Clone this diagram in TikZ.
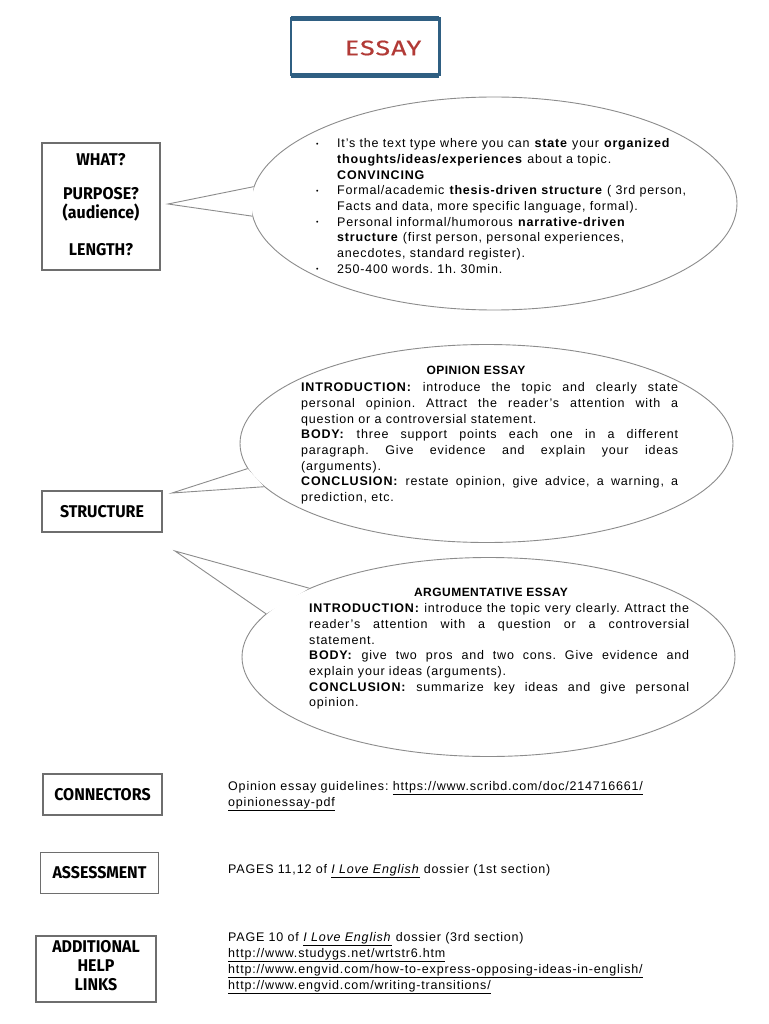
\documentclass[tikz,border=0pt]{standalone}
\usepackage{fontspec}
\setmainfont{Liberation Sans}[LetterSpace=6.5]
\newfontfamily\titlefont{Liberation Sans}[LetterSpace=4]
\newfontfamily\hand[FakeStretch=0.94]{Fira Sans}
\newfontfamily\essayfont[FakeStretch=1.27,LetterSpace=6,FakeBold=0.6]{Fira Sans}
\usetikzlibrary{shapes.geometric}
\definecolor{bub}{HTML}{8C8C8C}
\definecolor{boxc}{HTML}{6E6E6E}
\definecolor{frameblue}{HTML}{2F5F82}
\definecolor{essayred}{HTML}{B23A36}
\frenchspacing
\newcommand\rs{\spaceskip=0pt\xspaceskip=0pt\frenchspacing}
\newcommand\J[2]{{\rs\makebox[#1][s]{#2}}}
\newcommand\bul{\makebox[21pt][l]{\raisebox{1.5pt}{\fontsize{7}{7}\selectfont\textbullet}}}
\newcommand\ind{\hspace*{21pt}}
\begin{document}
\begin{tikzpicture}[x=1pt,y=-1pt,
  lbl/.style={draw=boxc, line width=1.2pt, inner sep=0, align=center,
    font=\hand\bfseries\fontsize{17}{19}\selectfont},
  lbltext/.style={inner sep=0, font=\hand\bfseries\fontsize{17}{19}\selectfont},
  bubble/.style={ellipse, draw=bub, line width=0.9pt, fill=white, inner sep=0},
  tail/.style={draw=bub, line width=0.9pt, line join=miter},
  body/.style={anchor=north west, inner sep=0, align=left,
    font=\fontsize{12.5}{15.7}\selectfont},
  title/.style={inner sep=0, font=\titlefont\bfseries\fontsize{12}{14}\selectfont},
  side/.style={anchor=base west, inner sep=0, font=\fontsize{12.5}{14}\selectfont}]
\useasboundingbox[fill=white] (0,0) rectangle (768,1024);

% ---- title frame
\node[inner sep=0, minimum width=148, minimum height=56] (essay) at (365,47) {};
\draw[frameblue, line width=2.6pt] (essay.north west) rectangle (essay.south east);
\draw[frameblue, line width=5pt] (essay.north west) -- (essay.north east);
\draw[frameblue, line width=5pt] (essay.south west) -- (essay.south east);
\node[inner sep=0, text=essayred, font=\essayfont\fontsize{21}{22}\selectfont] (essaytxt) at (383,48) {ESSAY};

% ---- left label boxes
\node[lbl, minimum width=118, minimum height=127] (what) at (101,206.5) {};
\node[lbltext] (w1) at (101,160) {WHAT?};
\node[lbltext] (w2) at (101,194) {PURPOSE?};
\node[lbltext] (w3) at (101,213) {(audience)};
\node[lbltext] (w4) at (101,250) {LENGTH?};

\node[lbl, minimum width=120, minimum height=41] (structure) at (102,511.5) {STRUCTURE};
\node[lbl, minimum width=119, minimum height=41] (connectors) at (102.5,794.5) {CONNECTORS};
\node[lbl, minimum width=118, minimum height=41] (assessment) at (99.5,873) {ASSESSMENT};
\node[lbl, minimum width=120, minimum height=66] (additional) at (96,969) {};
\node[lbltext] (a1) at (96,947) {ADDITIONAL};
\node[lbltext] (a2) at (96,966) {HELP};
\node[lbltext] (a3) at (96,985) {LINKS};

% ---- bubble 1
\node[bubble, minimum width=486, minimum height=213] (b1) at (494,203.5) {};
\coordinate (t1) at (168,204);
\fill[white] (t1) -- (b1.176.5) -- (b1.183.5) -- cycle;
\draw[tail] (b1.176.5) -- (t1) -- (b1.183.5);
\node[body, text width=420pt] (b1text) at (316,138.4) {\rs
\bul It's the text type where you can \textbf{state} your \textbf{organized}\\
\ind\textbf{thoughts/ideas/experiences} about a topic.\\
\ind\textbf{CONVINCING}\\
\bul Formal/academic \textbf{thesis-driven structure} ( 3rd person,\\
\ind Facts and data, more specific language, formal).\\
\bul Personal informal/humorous \textbf{narrative-driven}\\
\ind\textbf{structure} (first person, personal experiences,\\
\ind anecdotes, standard register).\\
\bul 250-400 words. 1h. 30min.};

% ---- bubble 2
\node[bubble, minimum width=493, minimum height=198] (b2) at (486.5,443.5) {};
\coordinate (t2) at (172,493);
\fill[white] (t2) -- (b2.186.6) -- (b2.191.8) -- cycle;
\draw[tail] (b2.186.6) -- (t2) -- (b2.191.8);
\node[title] (b2title) at (476,370) {OPINION ESSAY};
\node[body, text width=377pt] (b2text) at (301,382.4) {\rs
\J{377pt}{\textbf{INTRODUCTION:} introduce the topic and clearly state}\\
\J{377pt}{personal opinion. Attract the reader's attention with a}\\
question or a controversial statement.\\
\J{377pt}{\textbf{BODY:} three support points each one in a different}\\
\J{377pt}{paragraph. Give evidence and explain your ideas}\\
(arguments).\\
\J{377pt}{\textbf{CONCLUSION:} restate opinion, give advice, a warning, a}\\
prediction, etc.};

% ---- bubble 3
\node[bubble, minimum width=493, minimum height=199] (b3) at (488.5,657) {};
\coordinate (t3) at (175,551);
\fill[white] (t3) -- (b3.159.2) -- (b3.169.5) -- cycle;
\draw[tail] (b3.159.2) -- (t3) -- (b3.169.5);
\node[title] (b3title) at (491,592) {ARGUMENTATIVE ESSAY};
\node[body, text width=380pt] (b3text) at (309,603.4) {\rs
\J{380pt}{\textbf{INTRODUCTION:} introduce the topic very clearly. Attract the}\\
\J{380pt}{reader's attention with a question or a controversial}\\
statement.\\
\J{380pt}{\textbf{BODY:} give two pros and two cons. Give evidence and}\\
explain your ideas (arguments).\\
\J{380pt}{\textbf{CONCLUSION:} summarize key ideas and give personal}\\
opinion.};

% ---- right-hand texts
\node[side] (s1) at (228,790.3) {Opinion essay guidelines: \underline{https://www.scribd.com/doc/214716661/}};
\node[side] (s2) at (228,806.3) {\underline{opinionessay-pdf}};
\node[side] (s3) at (228,873.3) {PAGES 11,12 of \underline{\textit{I Love English}} dossier (1st section)};
\node[side] (s4) at (228,941.3) {PAGE 10 of \underline{\textit{I Love English}} dossier (3rd section)};
\node[side] (s5) at (228,957.3) {\underline{http://www.studygs.net/wrtstr6.htm}};
\node[side] (s6) at (228,973.3) {\underline{http://www.engvid.com/how-to-express-opposing-ideas-in-english/}};
\node[side] (s7) at (228,989.3) {\underline{http://www.engvid.com/writing-transitions/}};
\end{tikzpicture}
\end{document}
